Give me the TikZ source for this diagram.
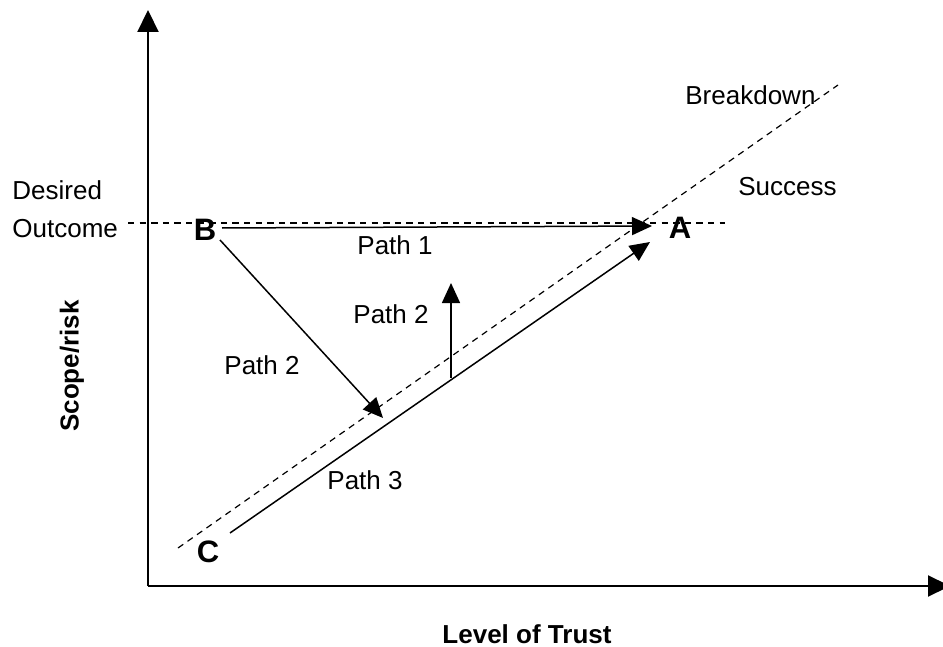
\documentclass[tikz,border=0pt]{standalone}
\usepackage{fontspec}
\setmainfont{Liberation Sans}
\usetikzlibrary{arrows.meta}
\begin{document}
\begin{tikzpicture}[x=0.5pt,y=-0.5pt,
  axisline/.style={line width=1.1pt,-{Triangle[length=11pt,width=10.5pt]}},
  pathline/.style={line width=0.75pt,-{Triangle[length=10pt,width=9pt]}},
  dashline/.style={line width=0.6pt,dash pattern=on 3.2pt off 2.6pt},
  lbl/.style={font=\fontsize{13}{15}\selectfont,inner sep=0pt},
  letter/.style={font=\fontsize{15.5}{17}\selectfont\bfseries,inner sep=0pt}]
\useasboundingbox (0,0) rectangle (943,647);
% axes
\coordinate (O) at (148,586);
\coordinate (Ytop) at (148,10);
\coordinate (Xend) at (950,586);
\draw[axisline] (O) -- (Ytop);
\draw[axisline] (O) -- (Xend);
% dashed lines
\coordinate (h1) at (128,223);
\coordinate (h2) at (725,223);
\draw[dashline] (h1) -- (h2);
\coordinate (d1) at (178,548);
\coordinate (d2) at (838,85);
\draw[dashline] (d1) -- (d2);
% labels
\node[lbl,anchor=west] (des) at (12,190) {Desired};
\node[lbl,anchor=west] (out) at (12,229) {Outcome};
\node[letter] (B) at (205,230) {B};
\node[letter] (A) at (680,228) {A};
\node[letter] (C) at (208,552) {C};
\node[lbl] (p1) at (395,245) {Path 1};
\node[lbl] (p2a) at (391,314) {Path 2};
\node[lbl] (p2b) at (262,365) {Path 2};
\node[lbl] (p3) at (365,480) {Path 3};
\node[lbl,anchor=west] (bd) at (685,95) {Breakdown};
\node[lbl,anchor=west] (sc) at (738,187) {Success};
\node[lbl,font=\fontsize{13}{15}\selectfont\bfseries,rotate=90] (ylab) at (72,366) {Scope/risk};
\node[lbl,font=\fontsize{13}{15}\selectfont\bfseries] (xlab) at (527,634) {Level of Trust};
% paths
\coordinate (p1s) at (222,228);
\coordinate (p1e) at (652,226);
\draw[pathline] (p1s) -- (p1e);
\coordinate (p2s) at (220,240);
\coordinate (p2e) at (383,418);
\draw[pathline] (p2s) -- (p2e);
\coordinate (p3s) at (230,533);
\coordinate (p3e) at (650,242);
\draw[pathline] (p3s) -- (p3e);
\coordinate (u1) at (451,378);
\coordinate (u2) at (451,283);
\draw[pathline] (u1) -- (u2);
\end{tikzpicture}
\end{document}
